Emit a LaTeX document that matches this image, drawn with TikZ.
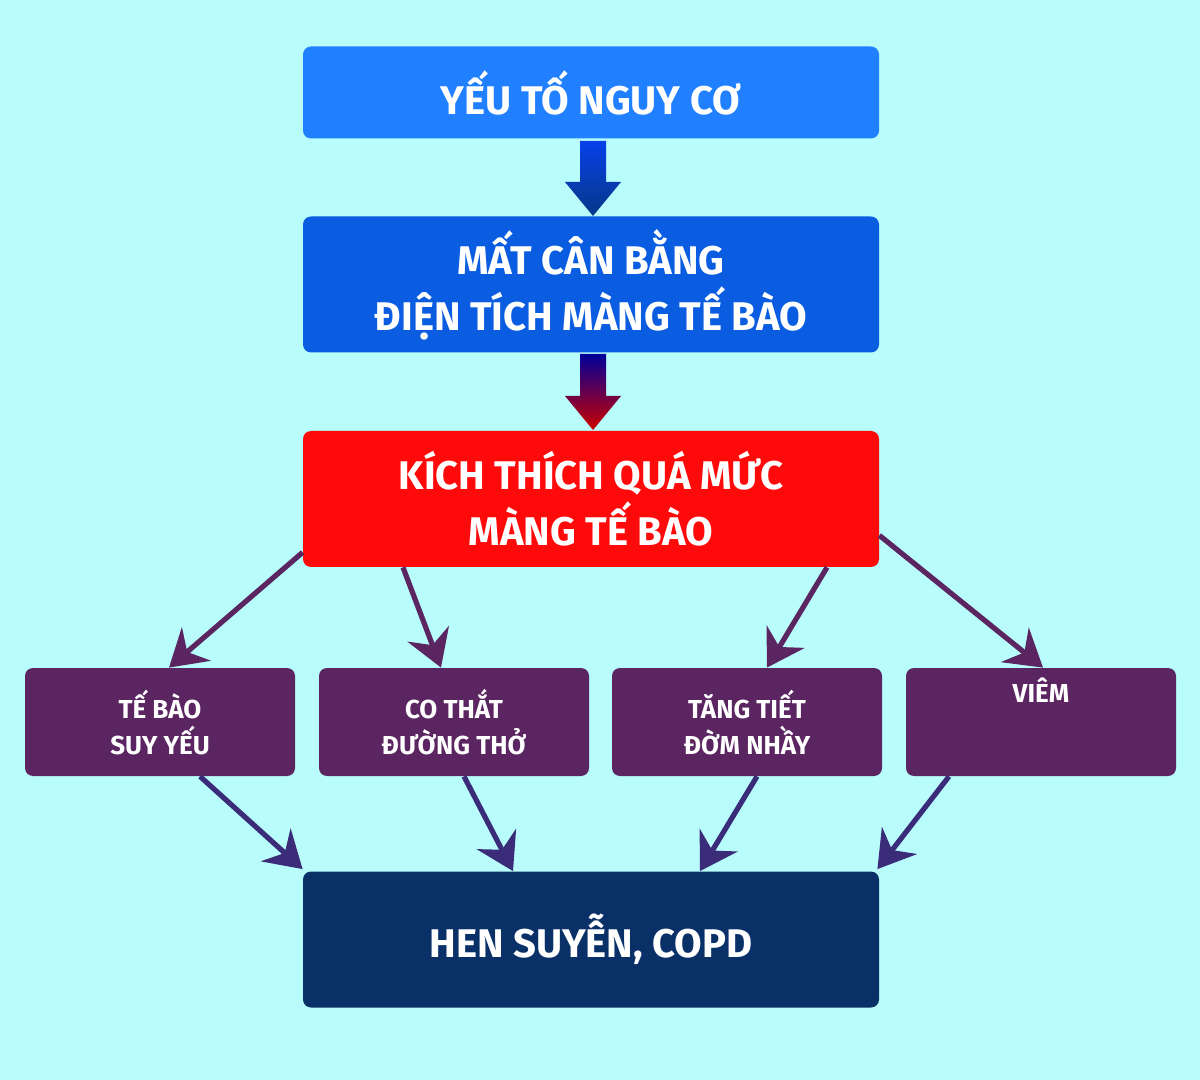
\documentclass[tikz,border=0pt]{standalone}
\usepackage{fontspec}
\setmainfont{Fira Sans}
\usetikzlibrary{arrows.meta}
\definecolor{bg}{HTML}{B8FCFC}
\definecolor{c1}{HTML}{2080FF}
\definecolor{c2}{HTML}{0A5CE0}
\definecolor{c3}{HTML}{FF0A0A}
\definecolor{cp}{HTML}{5A2560}
\definecolor{cb}{HTML}{0A3068}
\definecolor{lp}{HTML}{5A2560}
\definecolor{lb}{HTML}{3A2C78}
\begin{document}
\begin{tikzpicture}[x=0.5pt,y=-0.5pt,
 bigbox/.style={rounded corners=4pt,minimum width=288pt,text=white,font=\bfseries\fontsize{20}{28}\selectfont,align=center,inner sep=0pt},
 smallbox/.style={rounded corners=4pt,fill=cp,minimum width=135pt,minimum height=54pt,text=white,font=\bfseries\fontsize{13}{18}\selectfont,align=center,inner sep=0pt},
 conn/.style={line width=2.6pt,-{Stealth[length=18pt,width=22pt,inset=6pt]}}]
\fill[bg] (0,0) rectangle (1200,1080);
\useasboundingbox (0,0) rectangle (1200,1080);
\node[bigbox,fill=c1,minimum height=46pt] (b1) at (591,92.5) {YẾU TỐ NGUY CƠ};
\node[bigbox,fill=c2,minimum height=68pt] (b2) at (591,284.5) {MẤT CÂN BẰNG\\ ĐIỆN TÍCH MÀNG TẾ BÀO};
\node[bigbox,fill=c3,minimum height=68pt] (b3) at (591,499) {KÍCH THÍCH QUÁ MỨC\\ MÀNG TẾ BÀO};
\node[bigbox,fill=cb,minimum height=68pt] (b4) at (591,939.5) {HEN SUYỄN, COPD};
\node[smallbox] (s1) at (160,722) {TẾ BÀO\\ SUY YẾU};
\node[smallbox] (s2) at (454,722) {CO THẮT\\ ĐƯỜNG THỞ};
\node[smallbox] (s3) at (747,722) {TĂNG TIẾT\\ ĐỜM NHẦY};
\node[smallbox] (s4) at (1041,722) {VIÊM\\[14pt]};
% fat arrows
\shade[top color=c2!70!blue,bottom color=c2!60!black] (580,141)--(606,141)--(606,182)--(621,182)--(593,216)--(565,182)--(580,182)--cycle;
\shade[top color=blue!60!black,bottom color=red!80!black] (580,354)--(606,354)--(606,396)--(621,396)--(593,430)--(565,396)--(580,396)--cycle;
% connectors
\draw[conn,lp] ([shift={(0,-15)}]b3.south west) -- ([shift={(9,0)}]s1.north);
\draw[conn,lp] ([xshift=-94]b3.south) -- ([shift={(-13,0)}]s2.north);
\draw[conn,lp] ([xshift=118]b3.south) -- ([shift={(20,0)}]s3.north);
\draw[conn,lp] ([shift={(0,-32)}]b3.south east) -- ([shift={(2,0)}]s4.north);
\draw[conn,lb] ([xshift=20]s1.south) -- ([shift={(0,-2)}]b4.north west);
\draw[conn,lb] ([xshift=5]s2.south) -- ([shift={(-78,0)}]b4.north);
\draw[conn,lb] ([xshift=5]s3.south) -- ([shift={(109,0)}]b4.north);
\draw[conn,lb] ([xshift=-46]s4.south) -- ([shift={(-2,-2)}]b4.north east);
\end{tikzpicture}
\end{document}
